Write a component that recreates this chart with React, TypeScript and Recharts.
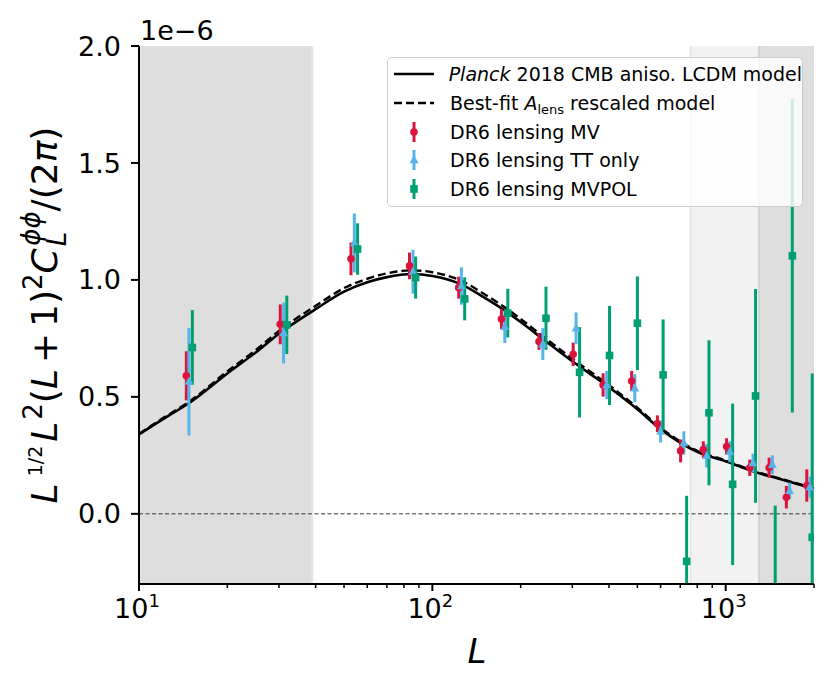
import React from 'react';
import {
  ComposedChart, Line, Scatter, ErrorBar, XAxis, YAxis, ReferenceArea, ReferenceLine,
} from 'recharts';

// ---- theory curves (units of 1e-6) ----
const thL = [10, 12, 15, 20, 25, 30, 40, 50, 60, 70, 85, 100, 125, 150, 175, 200, 240, 300, 400, 500, 600, 800, 1000, 1250, 1500, 2000];
const thPlanck = [0.340, 0.403, 0.478, 0.600, 0.690, 0.770, 0.875, 0.950, 0.990, 1.012, 1.025, 1.017, 0.982, 0.925, 0.872, 0.820, 0.744, 0.652, 0.541, 0.447, 0.362, 0.265, 0.225, 0.180, 0.152, 0.107];
const thFit = [0.342, 0.407, 0.484, 0.609, 0.700, 0.782, 0.889, 0.965, 1.005, 1.028, 1.041, 1.033, 0.997, 0.940, 0.886, 0.833, 0.756, 0.663, 0.550, 0.454, 0.368, 0.269, 0.228, 0.183, 0.154, 0.109];

// ---- DR6 lensing MV ----
const mvL = [14.5, 30.3, 52.8, 83.6, 123, 172, 231, 302, 382, 478, 585, 702, 839, 1007, 1208, 1406, 1610, 1890];
const mvY = [0.59, 0.81, 1.09, 1.06, 0.967, 0.833, 0.737, 0.682, 0.551, 0.568, 0.385, 0.269, 0.275, 0.288, 0.197, 0.197, 0.071, 0.121];
const mvErr = [0.105, 0.085, 0.07, 0.057, 0.047, 0.043, 0.036, 0.05, 0.05, 0.043, 0.036, 0.049, 0.035, 0.035, 0.035, 0.043, 0.048, 0.069];

// ---- DR6 lensing TT only ----
const ttL = [14.8, 31.1, 54.2, 85.9, 125.6, 176.6, 238, 309, 393, 490, 600, 720, 861, 1033, 1239, 1443, 1652, 1936];
const ttY = [0.565, 0.773, 1.158, 1.035, 0.974, 0.80, 0.726, 0.793, 0.551, 0.537, 0.352, 0.303, 0.248, 0.265, 0.217, 0.21, 0.098, 0.114];
const ttErr = [0.23, 0.13, 0.126, 0.094, 0.08, 0.07, 0.068, 0.068, 0.06, 0.06, 0.047, 0.05, 0.05, 0.045, 0.04, 0.04, 0.035, 0.045];

// ---- DR6 lensing MVPOL ----
const polL = [15.2, 31.9, 55.6, 87.7, 128.9, 180.8, 244, 317.6, 401.8, 500, 612, 736, 877, 1056, 1264, 1475, 1687, 1972];
const polY = [0.711, 0.808, 1.132, 1.01, 0.919, 0.858, 0.836, 0.605, 0.677, 0.815, 0.594, -0.203, 0.432, 0.126, 0.504, -0.40, 1.103, -0.10];
const polErr = [0.16, 0.125, 0.11, 0.09, 0.092, 0.104, 0.135, 0.193, 0.212, 0.2, 0.237, 0.28, 0.31, 0.345, 0.457, 0.435, 0.67, 0.70];

// ---- axes ----
const xTicks = [10, 20, 30, 40, 50, 60, 70, 80, 90, 100, 200, 300, 400, 500, 600, 700, 800, 900, 1000, 2000];
const xMajor = [10, 100, 1000];
const xMajorLabels = ['1', '2', '3'];
const yTicks = [0, 0.5, 1.0, 1.5, 2.0];
const xDomain = [10, 2000];
const yDomain = [-0.3, 2.0];

// ---- shaded scale ranges ----
const darkLow = [10, 39];
const lightHigh = [760, 1300];
const darkHigh = [1300, 2000];

const RED = '#dc143c';
const BLUE = '#56b4e9';
const GREEN = '#009e73';
const FONT = '"DejaVu Sans", sans-serif';

const lineData = (ys: number[]) => thL.map((L, i) => ({ L, y: ys[i] }));
// error bars are clipped to the visible y-range (like the plot frame does)
const ptData = (ls: number[], ys: number[], es: number[]) =>
  ls.map((L, i) => ({
    L,
    y: ys[i],
    e: [Math.min(es[i], ys[i] - yDomain[0]), Math.min(es[i], yDomain[1] - ys[i])],
  }));

const inside = (p: any) => {
  const v = p && p.payload ? p.payload.y : 0;
  return v >= yDomain[0] && v <= yDomain[1];
};

const XTick = (props: any) => {
  const { x, y, payload } = props;
  const v = payload.value;
  const mi = xMajor.indexOf(v);
  const major = mi >= 0;
  return (
    <g>
      <line x1={x} x2={x} y1={y} y2={y + (major ? 7 : 4)} stroke="#000" strokeWidth={major ? 2 : 1.5} />
      {major && (
        <text x={x - 2} y={y + 34} textAnchor="middle" fontFamily={FONT} fontSize={27} fill="#000">
          10<tspan fontSize={18} dy={-11}>{xMajorLabels[mi]}</tspan>
        </text>
      )}
    </g>
  );
};

const circleShape = (p: any) => (inside(p) ? <circle cx={p.cx} cy={p.cy} r={3.8} fill={RED} /> : <g />);
const triShape = (p: any) =>
  inside(p) ? (
    <polygon points={`${p.cx},${p.cy - 5} ${p.cx - 4.4},${p.cy + 3.2} ${p.cx + 4.4},${p.cy + 3.2}`} fill={BLUE} />
  ) : <g />;
const sqShape = (p: any) =>
  inside(p) ? <rect x={p.cx - 3.8} y={p.cy - 3.8} width={7.6} height={7.6} fill={GREEN} /> : <g />;

const LegendMarker = ({ color, kind }: { color: string; kind: string }) => (
  <svg width={52} height={26} style={{ display: 'block' }}>
    <line x1={26} x2={26} y1={3} y2={23} stroke={color} strokeWidth={3} />
    {kind === 'c' && <circle cx={26} cy={13} r={3.8} fill={color} />}
    {kind === 't' && <polygon points={`26,8 21.6,16.2 30.4,16.2`} fill={color} />}
    {kind === 's' && <rect x={22.2} y={9.2} width={7.6} height={7.6} fill={color} />}
  </svg>
);

const LegendLine = ({ dashed }: { dashed?: boolean }) => (
  <svg width={52} height={26} style={{ display: 'block' }}>
    <line x1={6} x2={46} y1={13} y2={13} stroke="#000" strokeWidth={2.4} strokeDasharray={dashed ? '8 4' : undefined} />
  </svg>
);

const rowStyle: React.CSSProperties = { display: 'flex', alignItems: 'center', height: 28.7 };
const txtStyle: React.CSSProperties = { marginLeft: 10, whiteSpace: 'nowrap' };

export default function App() {
  return (
    <div style={{ position: 'absolute', left: 0, top: 0, width: 832, height: 690, background: '#fff' }}>
      <ComposedChart width={832} height={690} margin={{ top: 46, right: 18, bottom: 66, left: 79 }}>
        <XAxis
          dataKey="L" type="number" scale="log" domain={xDomain} allowDataOverflow
          ticks={xTicks} interval={0} tick={<XTick />} tickSize={0} tickMargin={0} tickLine={false}
          axisLine={{ stroke: '#000', strokeWidth: 2 }} height={40}
        />
        <XAxis
          xAxisId="top" orientation="top" dataKey="L" type="number" scale="log" domain={xDomain} allowDataOverflow
          ticks={xMajor} interval={0} tick={false} tickSize={3} height={0}
          tickLine={{ stroke: '#000', strokeWidth: 2 }} axisLine={{ stroke: '#000', strokeWidth: 2 }}
        />
        <YAxis
          type="number" domain={yDomain} allowDataOverflow ticks={yTicks} interval={0}
          tickFormatter={(v: number) => v.toFixed(1)} width={60} tickSize={8} tickMargin={10}
          tick={{ fontSize: 27, fill: '#000', fontFamily: FONT }}
          tickLine={{ stroke: '#000', strokeWidth: 2 }} axisLine={{ stroke: '#000', strokeWidth: 2 }}
        />
        <YAxis
          yAxisId="right" orientation="right" type="number" domain={yDomain} allowDataOverflow
          tick={false} tickLine={false} width={0} axisLine={{ stroke: '#000', strokeWidth: 2 }}
        />
        <ReferenceArea x1={darkLow[0]} x2={darkLow[1]} y1={yDomain[0]} y2={yDomain[1]} fill="#dedede" fillOpacity={1} stroke="none" />
        <ReferenceArea x1={lightHigh[0]} x2={lightHigh[1]} y1={yDomain[0]} y2={yDomain[1]} fill="#f2f2f2" fillOpacity={1} stroke="none" />
        <ReferenceArea x1={darkHigh[0]} x2={darkHigh[1]} y1={yDomain[0]} y2={yDomain[1]} fill="#dedede" fillOpacity={1} stroke="none" />
        <ReferenceLine x={darkLow[1]} stroke="#e8e8e8" strokeWidth={2} />
        <ReferenceLine x={lightHigh[0]} stroke="#e6e6e6" strokeWidth={2} />
        <ReferenceLine x={darkHigh[0]} stroke="#d2d2d2" strokeWidth={2} />
        <ReferenceLine y={0} stroke="#333" strokeWidth={1} strokeDasharray="4 2.5" />
        <Line data={lineData(thPlanck)} dataKey="y" type="monotone" stroke="#000" strokeWidth={2.6} dot={false} isAnimationActive={false} />
        <Line data={lineData(thFit)} dataKey="y" type="monotone" stroke="#000" strokeWidth={2.4} strokeDasharray="8 4" dot={false} isAnimationActive={false} />
        <Scatter data={ptData(mvL, mvY, mvErr)} dataKey="y" shape={circleShape} isAnimationActive={false}>
          <ErrorBar dataKey="e" direction="y" width={0} stroke={RED} strokeWidth={3} />
        </Scatter>
        <Scatter data={ptData(ttL, ttY, ttErr)} dataKey="y" shape={triShape} isAnimationActive={false}>
          <ErrorBar dataKey="e" direction="y" width={0} stroke={BLUE} strokeWidth={3} />
        </Scatter>
        <Scatter data={ptData(polL, polY, polErr)} dataKey="y" shape={sqShape} isAnimationActive={false}>
          <ErrorBar dataKey="e" direction="y" width={0} stroke={GREEN} strokeWidth={3} />
        </Scatter>
      </ComposedChart>

      <svg width={832} height={690} style={{ position: 'absolute', left: 0, top: 0, pointerEvents: 'none' }}>
        <text x={140} y={40} fontFamily={FONT} fontSize={27} fill="#000">1e−6</text>
        <text x={477} y={663} fontFamily={FONT} fontSize={34} fontStyle="italic" textAnchor="middle" fill="#000">L</text>
        <text x={57} y={315} fontFamily={FONT} fontSize={36} textAnchor="middle" fill="#000" transform="rotate(-90 57 315)">
          <tspan fontStyle="italic">L</tspan>
          <tspan fontSize={19} dx={7} dy={-15}>1/2</tspan>
          <tspan dx={4} dy={15} fontStyle="italic">L</tspan>
          <tspan fontSize={26} dx={2} dy={-15}>2</tspan>
          <tspan dy={15}>(</tspan>
          <tspan fontStyle="italic">L</tspan>
          <tspan dx={6}>+</tspan>
          <tspan dx={6}>1)</tspan>
          <tspan fontSize={26} dy={-15}>2</tspan>
          <tspan dy={15} fontStyle="italic">C</tspan>
          <tspan fontSize={26} fontStyle="italic" dx={2} dy={9}>L</tspan>
          <tspan fontSize={26} fontStyle="italic" dx={-14} dy={-26}>ϕϕ</tspan>
          <tspan dy={17}>/(2</tspan>
          <tspan fontStyle="italic">π</tspan>
          <tspan>)</tspan>
        </text>
      </svg>

      <div
        style={{
          position: 'absolute', left: 387, top: 57, width: 416, height: 150, boxSizing: 'border-box',
          border: '1.5px solid #cccccc', borderRadius: 5, background: 'rgba(255,255,255,0.8)',
          fontFamily: FONT, fontSize: 19, color: '#000', paddingTop: 2,
        }}
      >
        <div style={rowStyle}><LegendLine /><span style={txtStyle}><i>Planck</i> 2018 CMB aniso. LCDM model</span></div>
        <div style={rowStyle}><LegendLine dashed /><span style={txtStyle}>Best-fit <i>A</i><span style={{ fontSize: 13, position: 'relative', top: 4 }}>lens</span> rescaled model</span></div>
        <div style={rowStyle}><LegendMarker color={RED} kind="c" /><span style={txtStyle}>DR6 lensing MV</span></div>
        <div style={rowStyle}><LegendMarker color={BLUE} kind="t" /><span style={txtStyle}>DR6 lensing TT only</span></div>
        <div style={rowStyle}><LegendMarker color={GREEN} kind="s" /><span style={txtStyle}>DR6 lensing MVPOL</span></div>
      </div>
    </div>
  );
}
